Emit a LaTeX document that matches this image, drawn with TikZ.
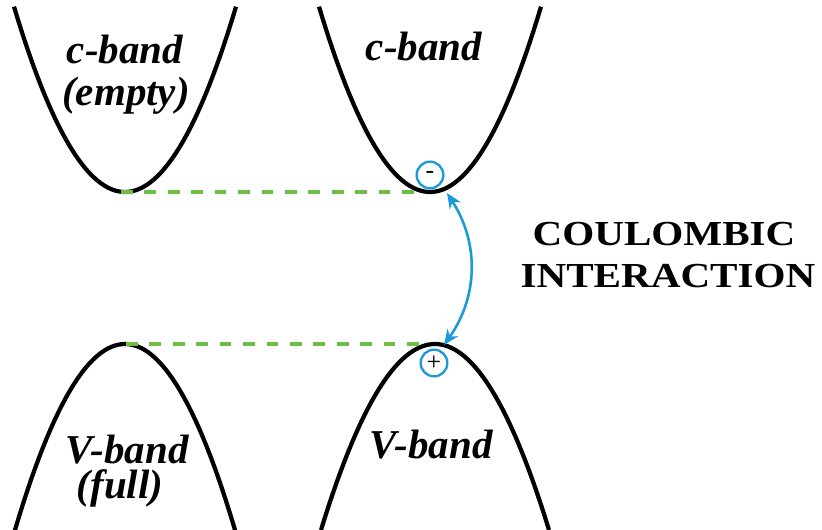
\documentclass[tikz,border=0pt]{standalone}
\usepackage{fontspec}
\setmainfont{Liberation Serif}
\newfontfamily\widefont[FakeStretch=1.17]{Liberation Serif}
\definecolor{gapgreen}{HTML}{6DBE45}
\definecolor{chargeblue}{HTML}{1B9AD6}
\usetikzlibrary{arrows.meta,positioning}

\begin{document}
\begin{tikzpicture}[x=0.03cm,y=-0.03cm,
  band/.style={draw=black,line width=3.6pt},
  gap/.style={draw=gapgreen,line width=2.6pt,dash pattern=on 10pt off 10pt},
  lbl/.style={anchor=base,inner sep=0pt,font=\fontsize{35}{40}\selectfont\bfseries\itshape},
  big/.style={anchor=base,inner sep=0pt,font=\fontsize{30}{36}\selectfont\widefont\bfseries},
  charge/.style={circle,draw=chargeblue,line width=2pt,minimum size=0.8cm,
                 inner sep=0pt,font=\fontsize{22}{22}\selectfont},
  link/.style={{Stealth[length=13pt,width=11pt]}-{Stealth[length=13pt,width=11pt]},
               draw=chargeblue,line width=2.2pt}
]
  \useasboundingbox (0,0) rectangle (822,529);

  % bands
  \draw[band] plot[domain=14:236,samples=60] (\x,{192-182*((\x-125)/110)^2});
  \draw[band] plot[domain=319:541,samples=60] (\x,{192-182*((\x-430)/110)^2});
  \draw[band] plot[domain=13:237,samples=60] (\x,{344+186*((\x-125)/110)^2});
  \draw[band] plot[domain=321:549,samples=60] (\x,{344+186*((\x-435)/114)^2});

  \coordinate (cmin) at (425,192);
  \coordinate (vmax) at (430,344);
  \coordinate (cleft) at (121,192);
  \coordinate (vleft) at (126,344);

  \draw[gap] (cleft) -- (cmin);
  \draw[gap] (vleft) -- (vmax);

  % carriers
  \node[charge] (elec) at (430,175) {-};
  \node[charge] (hole) at (434,363) {+};

  \coordinate (atop) at (447,193);
  \coordinate (abot) at (444,345);
  \draw[link] (atop) to[bend left=34] (abot);

  % labels
  \node[lbl] (c1a) at (125,63) {c-band};
  \node[lbl] (c1b) at (126,105) {(empty)};
  \node[lbl] (c2) at (424,60) {c-band};
  \node[lbl] (v1a) at (127,463) {V-band};
  \node[lbl] (v1b) at (120,498) {(full)};
  \node[lbl] (v2) at (431,458) {V-band};

  \node[big] (coul) at (664,245) {COULOMBIC};
  \node[big] (inter) at (668,287) {INTERACTION};
\end{tikzpicture}
\end{document}
